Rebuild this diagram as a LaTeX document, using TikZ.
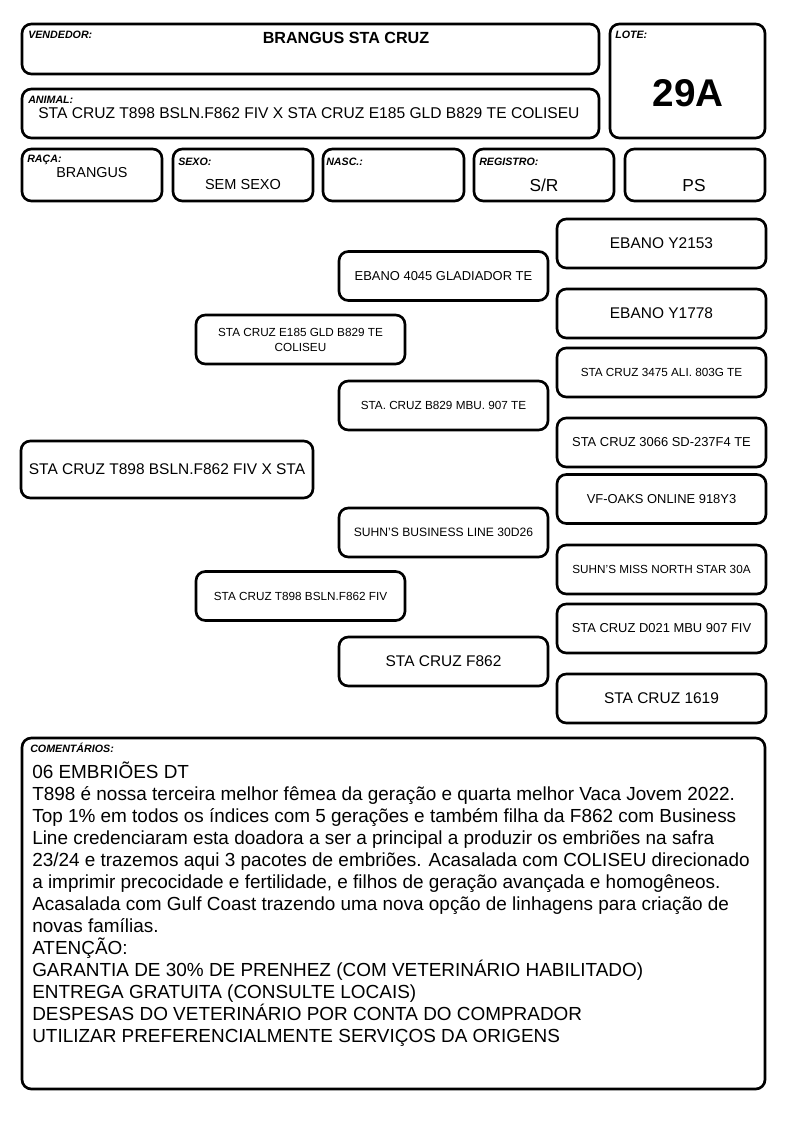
\documentclass[tikz,border=0pt]{standalone}
\usepackage{fontspec}
\setmainfont{Liberation Sans}
\usetikzlibrary{positioning}

\tikzset{
  cell/.style={draw, line width=2pt, rounded corners=7pt},
  ped/.style={cell, minimum width=156.75pt, minimum height=36.75pt, inner sep=0pt, align=center},
  tag/.style={anchor=base west, inner sep=0pt, font=\bfseries\itshape\fontsize{8}{9}\selectfont},
  txtL/.style={font=\fontsize{11.6}{13}\selectfont},
  txtM/.style={font=\fontsize{9.7}{11}\selectfont},
  txtS/.style={font=\fontsize{8.8}{11.25}\selectfont},
}

\begin{document}
\begin{tikzpicture}[x=0.75pt, y=-0.75pt]

% page
\useasboundingbox (0,0) rectangle (794,1123);

% Header boxes
\draw[cell] (22,24) rectangle (599,74);    % vendedor
\draw[cell] (610,24) rectangle (765,138);  % lote
\draw[cell] (22,89) rectangle (599,138);   % animal
\draw[cell] (22,149) rectangle (162,201);  % raca
\draw[cell] (173,149) rectangle (313,201); % sexo
\draw[cell] (323,149) rectangle (464,201); % nasc
\draw[cell] (474,149) rectangle (614,201); % registro
\draw[cell] (625,149) rectangle (765,201); % ps

% Header texts
\node[tag] (vendTag) at (28,39) {VENDEDOR:};
\node[anchor=base, inner sep=0pt, font=\bfseries\fontsize{12.1}{14}\selectfont] (vend) at (346,44) {BRANGUS STA CRUZ};
\node[tag] (loteTag) at (615,39) {LOTE:};
\node[anchor=base, inner sep=0pt, font=\bfseries\fontsize{29}{34}\selectfont] (lote) at (688,107) {29A};
\node[tag] (animTag) at (28,104) {ANIMAL:};
\node[anchor=base west, inner sep=0pt, font=\fontsize{11.7}{14}\selectfont] (anim) at (38,119) {STA CRUZ T898 BSLN.F862 FIV X STA CRUZ E185 GLD B829 TE COLISEU};
\node[tag] (racaTag) at (27,163) {RAÇA:};
\node[anchor=base, inner sep=0pt, font=\fontsize{10.8}{13}\selectfont] (raca) at (92,178) {BRANGUS};
\node[tag] (sexoTag) at (178,166) {SEXO:};
\node[anchor=base, inner sep=0pt, font=\fontsize{10.9}{13}\selectfont] (sexo) at (243,190) {SEM SEXO};
\node[tag] (nascTag) at (326,166) {NASC.:};
\node[tag] (regTag) at (479,166) {REGISTRO:};
\node[anchor=base, inner sep=0pt, font=\fontsize{13}{15}\selectfont] (reg) at (544,192) {S/R};
\node[anchor=base, inner sep=0pt, font=\fontsize{13}{15}\selectfont] (ps) at (694,192) {PS};

% Animal
\node[ped, txtL, minimum width=219pt, minimum height=42.75pt] (animal) at (167,469.5) {STA CRUZ T898 BSLN.F862 FIV X STA};

% Pais
\node[ped, txtS] (pai) at (300.5,339.5) {STA CRUZ E185 GLD B829 TE\\COLISEU};
\node[ped, txtS] (mae) at (300.5,596) {STA CRUZ T898 BSLN.F862 FIV};

% Avos
\node[ped, txtM] (avoPP) at (443.5,276) {EBANO 4045 GLADIADOR TE};
\node[ped, txtS] (avoPM) at (443.5,405.5) {STA. CRUZ B829 MBU. 907 TE};
\node[ped, font=\fontsize{9.1}{11}\selectfont] (avoMP) at (443.5,532.5) {SUHN'S BUSINESS LINE 30D26};
\node[ped, txtL] (avoMM) at (443.5,661.5) {STA CRUZ F862};

% Bisavos
\node[ped, txtL] (bisA) at (661.5,243.5) {EBANO Y2153};
\node[ped, txtL] (bisB) at (661.5,313.5) {EBANO Y1778};
\node[ped, txtS] (bisC) at (661.5,372.5) {STA CRUZ 3475 ALI. 803G TE};
\node[ped, txtM] (bisD) at (661.5,442.5) {STA CRUZ 3066 SD-237F4 TE};
\node[ped, txtM] (bisE) at (661.5,499) {VF-OAKS ONLINE 918Y3};
\node[ped, txtS] (bisF) at (661.5,569.5) {SUHN'S MISS NORTH STAR 30A};
\node[ped, txtM] (bisG) at (661.5,628.5) {STA CRUZ D021 MBU 907 FIV};
\node[ped, txtL] (bisH) at (661.5,698.5) {STA CRUZ 1619};

% Comentarios
\draw[cell] (22,738) rectangle (765,1089);
\node[tag] (comTag) at (30,752) {COMENTÁRIOS:};
\node[anchor=north west, inner sep=0pt, align=left, font=\fontsize{14.2}{16.5}\selectfont] (com) at (32,762) {06 EMBRIÕES DT\\
T898 é nossa terceira melhor fêmea da geração e quarta melhor Vaca Jovem 2022.\\
Top 1\% em todos os índices com 5 gerações e também filha da F862 com Business\\
Line credenciaram esta doadora a ser a principal a produzir os embriões na safra\\
23/24 e trazemos aqui 3 pacotes de embriões. Acasalada com COLISEU direcionado\\
a imprimir precocidade e fertilidade, e filhos de geração avançada e homogêneos.\\
Acasalada com Gulf Coast trazendo uma nova opção de linhagens para criação de\\
novas famílias.\\
ATENÇÃO:\\
GARANTIA DE 30\% DE PRENHEZ (COM VETERINÁRIO HABILITADO)\\
ENTREGA GRATUITA (CONSULTE LOCAIS)\\
DESPESAS DO VETERINÁRIO POR CONTA DO COMPRADOR\\
UTILIZAR PREFERENCIALMENTE SERVIÇOS DA ORIGENS};

\end{tikzpicture}
\end{document}
